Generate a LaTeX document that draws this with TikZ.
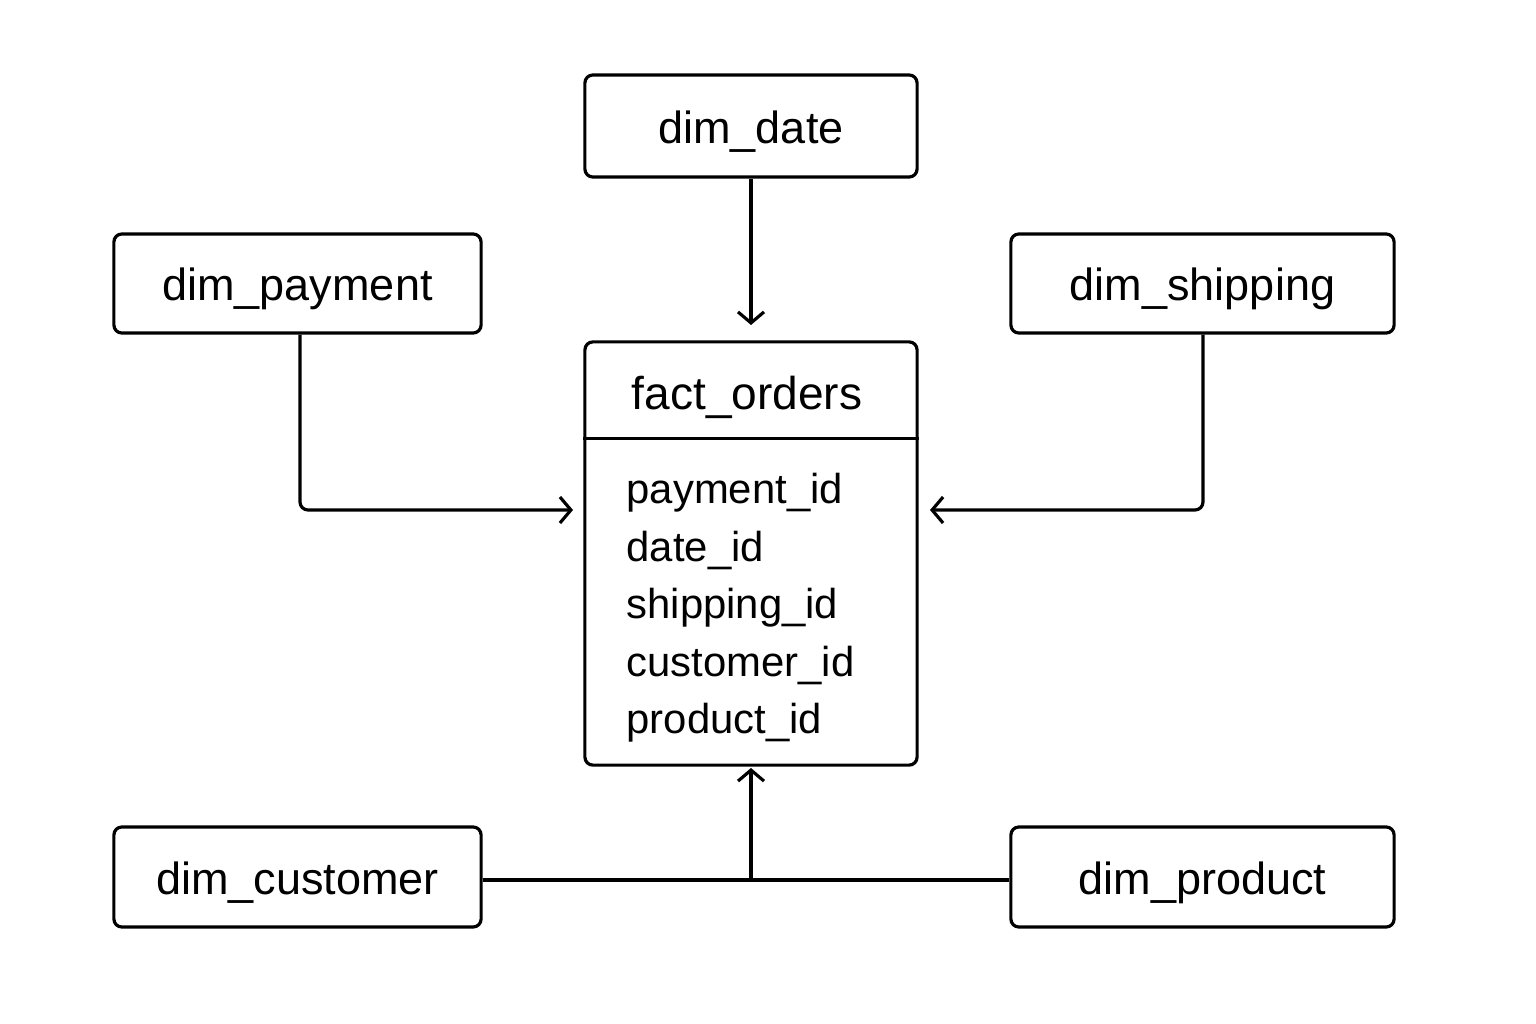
\documentclass[tikz,border=0pt]{standalone}
\usepackage{fontspec}
\setmainfont{Liberation Sans}
\usetikzlibrary{arrows.meta,calc}
\begin{document}
\begin{tikzpicture}[x=0.01cm,y=-0.01cm,
  line width=0.9pt,
  box/.style={draw, rounded corners=0.08cm, inner sep=0pt, align=center,
    font=\fontsize{12.8pt}{14pt}\selectfont, text height=0.34cm, text depth=0cm},
  field/.style={anchor=base west, inner sep=0pt, font=\fontsize{11.9pt}{14pt}\selectfont},
  conn/.style={draw, rounded corners=0.08cm},
  arr/.style={-{Straight Barb[length=0.11cm,width=0.26cm,line width=0.9pt]}}
]
\useasboundingbox (0,0) rectangle (1536,1024);

\node[box, minimum width=3.32cm, minimum height=1.02cm] (date) at (751,126) {dim\_date};
\node[box, minimum width=3.67cm, minimum height=0.99cm] (pay) at (297.5,283.5) {dim\_payment};
\node[box, minimum width=3.83cm, minimum height=0.99cm] (ship) at (1202.5,283.5) {dim\_shipping};
\node[box, minimum width=3.67cm, minimum height=1.00cm] (cust) at (297.5,877) {dim\_customer};
\node[box, minimum width=3.83cm, minimum height=1.00cm] (prod) at (1202.5,877) {dim\_product};

\node[draw, rounded corners=0.08cm, inner sep=0pt, minimum width=3.32cm, minimum height=4.23cm] (fact) at (751,553.5) {};
\draw ($(fact.north west)+(0,98)$) coordinate (hl) -- ($(fact.north east)+(0,98)$) coordinate (hr);
\node[anchor=base, inner sep=0pt, font=\fontsize{13.1pt}{15pt}\selectfont] (title) at (747,409) {fact\_orders};
\node[field] (f1) at (625,503) {payment\_id};
\node[field] (f2) at (625,561) {date\_id};
\node[field] (f3) at (625,618) {shipping\_id};
\node[field] (f4) at (625,676) {customer\_id};
\node[field] (f5) at (625,733) {product\_id};

\coordinate (tdate) at (751,325);
\coordinate (tpay) at (573,510);
\coordinate (tship) at (930,510);
\coordinate (tbot) at (751,768);
\coordinate (junc) at (751,880);

\draw[arr] (date.south) -- (tdate);
\draw[conn, arr] (pay.south -| 300,0) |- (tpay);
\draw[conn, arr] (ship.south -| 1203,0) |- (tship);
\draw (cust.east |- junc) -- (prod.west |- junc);
\draw[arr] (junc) -- (tbot);
\end{tikzpicture}
\end{document}
